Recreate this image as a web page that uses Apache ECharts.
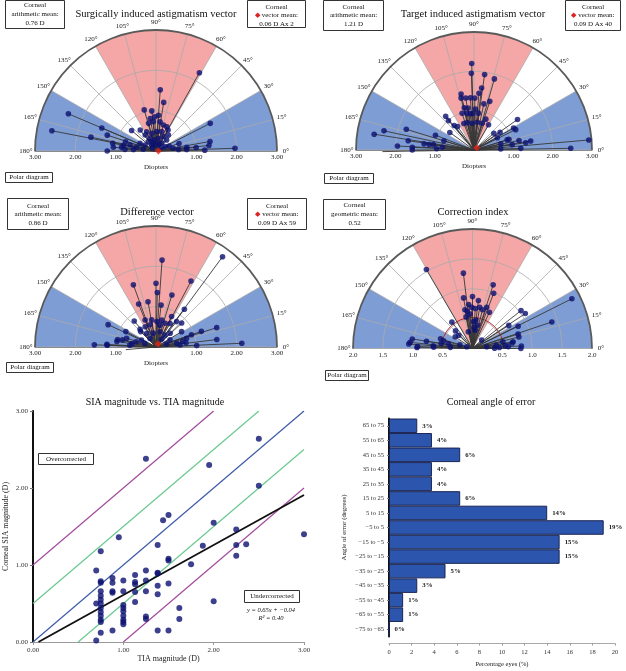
<!DOCTYPE html>
<html><head><meta charset="utf-8">
<script src="https://cdn.jsdelivr.net/npm/echarts@6/dist/echarts.min.js"></script>
<style>html,body{margin:0;padding:0;background:#fff}#c{width:626px;height:671px}</style>
</head><body><div id="c"></div>
<script>
const FONT = "'Liberation Serif', 'DejaVu Serif', serif";

// ---------- Polar diagrams: [axis angle (deg), magnitude] ----------
const siaVectors = [[61,2.22],[86,1.52],[81,1.22],[106,1.06],[96,1.00],[157,2.36],[169,2.63],[27,1.51],[157,1.46],[168,1.65],[170,1.09],[180,1.21],[10,1.36],[6,1.32],[2,1.96],[18,0.60],[7,0.77],[3,0.76],[1,1.21],[162,1.27],
[100,0.82],[92,0.85],[86,0.89],[95,0.73],[105,0.71],[82,0.73],[74,0.67],[66,0.66],[60,0.60],[74,0.50],[88,0.48],[104,0.45],[116,0.53],[124,0.48],[115,0.35],[100,0.28],[80,0.32],[63,0.40],[46,0.38],[54,0.24],[126,0.18],[129,0.30],[52,0.50],[26,0.25],[151,0.31],[154,0.44],[169,0.49],[167,0.66],[140,0.79],[127,0.65],[163,0.79],[170,0.82],[174,0.86],[175,1.06],[177,0.77],[176,0.56],[172,0.32],[9,0.43],[21,0.35],[4,0.56],[5,1.00],[90,0.15],[70,0.20],[110,0.22],[35,0.15],[140,0.12]];
const tiaVectors = [[91.5,2.20],[92,1.95],[82,1.94],[74,1.88],[83,1.59],[85,1.45],[103,1.46],[72,1.30],[78,1.20],[104,1.36],[99,1.34],[94,1.33],[89,1.32],[103,1.10],[98,1.08],[92,0.93],[83,0.94],[108,0.98],[104,0.72],[94,0.68],[83,0.71],[73,0.71],[69,0.84],[111,0.72],[130,1.12],[131,0.99],[144,0.76],[129,0.80],[125,0.73],[60,0.74],[35,1.35],[26,1.18],[34,0.80],[40,0.66],[28,0.67],[29,1.15],[17,0.93],[17,0.88],[12,1.17],[8,1.33],[9,1.46],[8,0.98],[13,0.70],[2,0.68],[2,1.19],[1,2.46],[5,2.93],[168,2.34],[171,2.57],[163,1.80],[181,2.33],[172,1.69],[177,1.95],[177.5,1.57],[180,1.57],[173,1.28],[173,1.15],[172.5,1.04],[159,1.05],[163,0.80],[175,0.81],[178,0.95],[96,0.93],[101,0.95],[88,1.04]];
const diffVectors = [[53.6,2.78],[86,2.16],[62,1.85],[110,1.64],[90,1.58],[88.6,1.35],[73,1.35],[53,1.17],[112,1.15],[100,1.14],[83,1.05],[63,0.85],[130,0.84],[112,0.72],[155,1.31],[153,0.84],[163.5,0.76],[169,0.97],[177,1.22],[135,0.54],[19,0.93],[19,1.19],[17.7,1.58],[7,1.52],[2.5,2.13],[16,0.79],[31,0.74],[178,1.53],[178,1.21],[172,0.98],[185,0.75],[2,1.01],
[99,0.68],[88,0.63],[78,0.68],[105,0.57],[80,0.55],[69,0.63],[59,0.68],[51,0.81],[43,0.87],[118,0.57],[132,0.59],[124,0.41],[101,0.35],[75,0.39],[53,0.37],[44,0.49],[125,0.26],[54,0.24],[27,0.39],[154,0.40],[165,0.51],[162,0.29],[16,0.27],[10,0.52],[176,0.65],[5,0.60],[8,0.75],[12,0.68],[172,0.60],[168,0.85]];
const ciVectors = [[120.3,1.53],[96.9,1.27],[72,1.12],[69,0.99],[26.6,1.86],[100,0.86],[90,0.87],[83,0.81],[95,0.74],[38,1.03],[33.5,1.06],[18.5,1.40],[26,0.85],[32.5,0.72],[17.6,0.80],[134,0.41],[128,0.56],[171,1.02],[174.4,1.05],[171,0.78],[163,0.56],[171,0.53],[179,0.93],[169,0.41],[12.5,0.52],[9.5,0.69],[3,0.82],[14,0.80],[8,0.67],[0,0.81],[176,1.07],[178,0.92],[176,0.66],[165,0.50],
[101,0.66],[98,0.63],[91,0.69],[86,0.67],[80,0.70],[75.5,0.67],[71,0.73],[65,0.67],[83,0.48],[78,0.40],[82,0.31],[136,0.32],[104,0.29],[146,0.35],[8,0.40],[7,0.24],[0.5,0.37],[163,0.10],[43,0.21],[164,0.22],[177,0.37],[178,0.65],[101.5,0.54],[94,0.58],[88,0.45],[86,0.35],[5,0.55],[3,0.60],[2,0.45]];
const siaMean = [2, 0.06];
const tiaMean = [40, 0.09];
const diffMean = [59, 0.09];
const ciGeoMean = 0.52;

const blueSectors = [[0,30],[150,180]];
const redSectors = [[60,120]];
const angleTicks = [0,15,30,45,60,75,90,105,120,135,150,165,180];

// ---------- SIA vs TIA scatter: [TIA magnitude, SIA magnitude] ----------
const magnitudePairs = [[0.70,0.93],[0.70,0.02],[0.75,1.18],[0.75,0.79],[0.75,0.77],[0.75,0.66],[0.75,0.60],[0.75,0.55],[0.75,0.50],[0.75,0.44],[0.75,0.39],[0.75,0.34],[0.75,0.29],[0.75,0.26],[0.75,0.12],[0.70,0.50],[0.88,0.83],[0.88,0.77],[0.88,0.66],[0.88,0.64],[0.88,0.15],[0.95,1.36],[1.00,0.80],[1.00,0.66],[1.00,0.48],[1.00,0.44],[1.00,0.40],[1.00,0.34],[1.00,0.29],[1.00,0.26],[1.00,0.23],[1.13,0.87],[1.13,0.78],[1.13,0.75],[1.13,0.65],[1.13,0.52],[1.25,2.38],[1.25,0.93],[1.25,0.80],[1.25,0.66],[1.25,0.33],[1.25,0.30],[1.38,1.26],[1.38,0.90],[1.38,0.89],[1.38,0.73],[1.38,0.62],[1.38,0.15],[1.44,1.58],[1.50,1.65],[1.50,1.08],[1.50,1.06],[1.50,0.76],[1.50,0.15],[1.62,0.44],[1.62,0.30],[1.75,1.01],[1.88,1.25],[1.95,2.30],[2.00,1.55],[2.00,0.53],[2.25,1.46],[2.25,1.26],[2.25,1.12],[2.36,1.27],[2.50,2.64],[2.50,2.03],[3.00,1.40]];
const purpleLineUpper = [[0,1],[2,3]];
const purpleLineLower = [[1,0],[3,2]];
const greenLineUpper = [[0,0.5],[2.5,3]];
const greenLineLower = [[0.5,0],[3,2.5]];
const blueLine = [[0,0],[3,3]];
const regressionLine = [[0.06,0],[3,1.91]];

// ---------- Angle of error histogram ----------
const errorCategories = ['65 to 75','55 to 65','45 to 55','35 to 45','25 to 35','15 to 25','5 to 15','\u22125 to 5','\u221215 to \u22125','\u221225 to \u221215','\u221235 to \u221225','\u221245 to \u221235','\u221255 to \u221245','\u221265 to \u221255','\u221275 to \u221265'];
const errorPercent = [2.5,3.8,6.3,3.8,3.8,6.3,14.0,19.0,15.1,15.1,5.0,2.5,1.25,1.25,0];
const errorLabels = ['3%','4%','6%','4%','4%','6%','14%','19%','15%','15%','5%','3%','1%','1%','0%'];

// ---------- styling ----------
const BLUE = '#7f9dd5', PINK = '#f4a7a6', NAVY = '#0c1170';
const rad = d => d * Math.PI / 180;
const toXY = v => [v[1] * Math.cos(rad(v[0])), v[1] * Math.sin(rad(v[0]))];

function polarBackground(rMax, rings, redArc) {
  return function (params, api) {
    const o = api.coord([0, 0]);
    const R = api.size([rMax, 0])[0];
    const ch = [];
    ch.push({type:'sector', shape:{cx:o[0],cy:o[1],r:R,r0:0,startAngle:-Math.PI,endAngle:0,clockwise:true}, style:{fill:'#fff'}});
    blueSectors.forEach(s => ch.push({type:'sector', shape:{cx:o[0],cy:o[1],r:R,r0:0,startAngle:-rad(s[1]),endAngle:-rad(s[0]),clockwise:true}, style:{fill:BLUE}}));
    redSectors.forEach(s => ch.push({type:'sector', shape:{cx:o[0],cy:o[1],r:R,r0:0,startAngle:-rad(s[1]),endAngle:-rad(s[0]),clockwise:true}, style:{fill:PINK}}));
    rings.forEach(v => {
      const rr = api.size([v, 0])[0];
      ch.push({type:'arc', shape:{cx:o[0],cy:o[1],r:rr,startAngle:-Math.PI,endAngle:0,clockwise:true}, style:{stroke:'#a9a9a9',fill:null,lineWidth:0.8}});
    });
    angleTicks.forEach(a => {
      ch.push({type:'line', shape:{x1:o[0],y1:o[1],x2:o[0]+R*Math.cos(rad(a)),y2:o[1]-R*Math.sin(rad(a))}, style:{stroke:'#a9a9a9',lineWidth:0.8}});
      ch.push({type:'text', x:o[0]+(R+9)*Math.cos(rad(a)), y:o[1]-(R+8)*Math.sin(rad(a)), style:{text:a+'\u00b0', fontSize:7, fontFamily:FONT, fill:'#222', align:'center', verticalAlign:'middle'}});
    });
    if (redArc) {
      const rr = api.size([redArc, 0])[0];
      ch.push({type:'arc', shape:{cx:o[0],cy:o[1],r:rr,startAngle:-Math.PI,endAngle:0,clockwise:true}, style:{stroke:'#b3262a',fill:null,lineWidth:1}});
    }
    ch.push({type:'arc', shape:{cx:o[0],cy:o[1],r:R,startAngle:-Math.PI,endAngle:0,clockwise:true}, style:{stroke:'#5a5a5a',fill:null,lineWidth:1.8}});
    return {type:'group', children:ch};
  };
}
function vectorLine(params, api) {
  const p = api.coord([api.value(0), api.value(1)]);
  const o = api.coord([0, 0]);
  return {type:'line', shape:{x1:o[0],y1:o[1],x2:p[0],y2:p[1]}, style:{stroke:'#383838',lineWidth:0.9}};
}

const panels = [
  {grid:{left:35,top:30,width:242,height:121}, rMax:3, rings:[1,2], interval:1, digits:2, vectors:siaVectors, mean:siaMean, name:'Diopters'},
  {grid:{left:356,top:32,width:236,height:118}, rMax:3, rings:[1,2], interval:1, digits:2, vectors:tiaVectors, mean:tiaMean, name:'Diopters'},
  {grid:{left:35,top:226,width:242,height:121}, rMax:3, rings:[1,2], interval:1, digits:2, vectors:diffVectors, mean:diffMean, name:'Diopters'},
  {grid:{left:353,top:229,width:239,height:119.5}, rMax:2, rings:[0.5,1,1.5], interval:0.5, digits:1, vectors:ciVectors, mean:null, name:'', redArc:ciGeoMean}
];

const grids = [], xAxes = [], yAxes = [], series = [];
panels.forEach((p, i) => {
  grids.push(Object.assign({outerBoundsMode:'none', containLabel:false}, p.grid));
  xAxes.push({gridIndex:i, type:'value', min:-p.rMax, max:p.rMax, interval:p.interval,
    axisLine:{show:true, onZero:false, lineStyle:{color:'#777', width:1}}, axisTick:{show:false}, splitLine:{show:false},
    axisLabel:{fontSize:7, fontFamily:FONT, color:'#222', margin:3, formatter: v => Math.abs(v) < 1e-9 ? '' : Math.abs(v).toFixed(p.digits)},
    name:p.name, nameLocation:'middle', nameGap:13, nameTextStyle:{fontSize:7, fontFamily:FONT, color:'#222'}});
  yAxes.push({gridIndex:i, type:'value', min:0, max:p.rMax, show:false});
  series.push({type:'custom', xAxisIndex:i, yAxisIndex:i, z:1, silent:true, clip:false, data:[[0,0]], renderItem:polarBackground(p.rMax, p.rings, p.redArc)});
  const pts = p.vectors.map(toXY);
  series.push({type:'custom', xAxisIndex:i, yAxisIndex:i, z:2, silent:true, clip:false, data:pts, renderItem:vectorLine});
  series.push({type:'scatter', xAxisIndex:i, yAxisIndex:i, z:3, silent:true, symbolSize:5.6, itemStyle:{color:NAVY}, data:pts});
  if (p.mean) series.push({type:'scatter', xAxisIndex:i, yAxisIndex:i, z:4, silent:true, symbol:'diamond', symbolSize:7, itemStyle:{color:'#e2231a'}, data:[toXY(p.mean)]});
});

// Scatter grid (index 4)
grids.push({outerBoundsMode:'none', containLabel:false, left:33, top:411, width:271, height:231});
xAxes.push({gridIndex:4, type:'value', min:0, max:3, interval:1,
  axisLine:{show:true, lineStyle:{color:'#999', width:1}}, axisTick:{show:true, length:3, lineStyle:{color:'#999'}}, splitLine:{show:false},
  axisLabel:{fontSize:7, fontFamily:FONT, color:'#333', margin:5, formatter: v => v.toFixed(2)},
  name:'TIA magnitude (D)', nameLocation:'middle', nameGap:12, nameTextStyle:{fontSize:8, fontFamily:FONT, color:'#222'}});
yAxes.push({gridIndex:4, type:'value', min:0, max:3, interval:1,
  axisLine:{show:true, lineStyle:{color:'#111', width:2}}, axisTick:{show:true, length:3, lineStyle:{color:'#777'}}, splitLine:{show:false},
  axisLabel:{fontSize:7, fontFamily:FONT, color:'#333', margin:5, formatter: v => v.toFixed(2)},
  name:'Corneal SIA magnitude (D)', nameLocation:'middle', nameGap:23, nameTextStyle:{fontSize:8, fontFamily:FONT, color:'#222'}});
[[purpleLineUpper,'#a24a9c'],[purpleLineLower,'#a24a9c'],[greenLineUpper,'#6ac88f'],[greenLineLower,'#6ac88f'],[blueLine,'#3d5aa9']].forEach(l => {
  series.push({type:'line', xAxisIndex:4, yAxisIndex:4, data:l[0], symbol:'none', silent:true, z:2, lineStyle:{color:l[1], width:1.2}});
});
series.push({type:'line', xAxisIndex:4, yAxisIndex:4, data:regressionLine, symbol:'none', silent:true, z:3, lineStyle:{color:'#111', width:1.8}});
series.push({type:'scatter', xAxisIndex:4, yAxisIndex:4, data:magnitudePairs, symbolSize:6, silent:true, z:4, itemStyle:{color:NAVY}});

// Bar grid (index 5)
grids.push({outerBoundsMode:'none', containLabel:false, left:389, top:418.5, width:226, height:218});
xAxes.push({gridIndex:5, type:'value', min:0, max:20, interval:2, offset:7,
  axisLine:{show:true, lineStyle:{color:'#aaa', width:1}}, axisTick:{show:true, length:2, lineStyle:{color:'#999'}}, splitLine:{show:false},
  axisLabel:{fontSize:6.5, fontFamily:FONT, color:'#333', margin:5},
  name:'Percentage eyes (%)', nameLocation:'middle', nameGap:17, nameTextStyle:{fontSize:6.5, fontFamily:FONT, color:'#222'}});
yAxes.push({gridIndex:5, type:'category', inverse:true, data:errorCategories,
  axisLine:{show:true, lineStyle:{color:'#111', width:2}}, axisTick:{show:true, alignWithLabel:true, length:2, lineStyle:{color:'#777'}},
  axisLabel:{fontSize:6.5, fontFamily:FONT, color:'#333', margin:5},
  name:'Angle of error (degrees)', nameLocation:'middle', nameGap:41, nameTextStyle:{fontSize:6.8, fontFamily:FONT, color:'#222'}});
series.push({type:'bar', xAxisIndex:5, yAxisIndex:5, data:errorPercent, barCategoryGap:'0%', silent:true,
  itemStyle:{color:'#2c55ad', borderColor:'#1b2552', borderWidth:1},
  label:{show:true, position:'right', distance:5, fontSize:6.8, fontWeight:'bold', fontFamily:FONT, color:'#222', formatter: p => errorLabels[p.dataIndex]}});

// ---------- text boxes and titles ----------
function txt(x, y, t, size, extra) {
  return Object.assign({type:'text', x:x, y:y, silent:true, style:Object.assign({text:t, fontSize:size, fontFamily:FONT, fill:'#111', align:'center', verticalAlign:'middle', rich:{r:{fill:'#de2222', fontSize:7}}}, extra || {})});
}
function box(x, y, w, h, lines, ys, size) {
  const ch = [{type:'rect', silent:true, shape:{x:x, y:y, width:w, height:h}, style:{fill:'#fff', stroke:'#333', lineWidth:1}}];
  lines.forEach((t, i) => ch.push(txt(x + w / 2, ys[i], t, size || 7)));
  return {type:'group', children:ch};
}
const graphics = [
  txt(156, 14, 'Surgically induced astigmatism vector', 10.5),
  txt(473, 14, 'Target induced astigmatism vector', 10.5),
  txt(157, 212, 'Difference vector', 10.5),
  txt(473, 212, 'Correction index', 10.5),
  txt(155, 402, 'SIA magnitude vs. TIA magnitude', 10),
  txt(491, 402, 'Corneal angle of error', 10),
  box(5.5, 0.5, 59, 28, ['Corneal','arithmetic mean:','0.76 D'], [5.5, 14, 23]),
  box(247.5, 0.5, 58, 27, ['Corneal','{r|\u25c6} vector mean:','0.06 D Ax 2'], [7, 15.5, 24]),
  box(5.5, 172.5, 47, 10, ['Polar diagram'], [177.5]),
  box(323.5, 0.5, 60, 30, ['Corneal','arithmetic mean:','1.21 D'], [7, 15, 24]),
  box(565.5, 0.5, 55, 30, ['Corneal','{r|\u25c6} vector mean:','0.09 D Ax 40'], [7, 15, 24]),
  box(324.5, 173.5, 49, 10, ['Polar diagram'], [178.5]),
  box(7.5, 198.5, 61, 31, ['Corneal','arithmetic mean:','0.86 D'], [206, 214.5, 223]),
  box(247.5, 198.5, 59, 31, ['Corneal','{r|\u25c6} vector mean:','0.09 D Ax 59'], [206, 214.5, 223]),
  box(6.5, 362.5, 47, 10, ['Polar diagram'], [367.5]),
  box(323.5, 199.5, 62, 30, ['Corneal','geometric mean:','0.52'], [205.5, 214, 223]),
  box(325.5, 370.5, 43, 10, ['Polar diagram'], [375.5]),
  box(38.5, 453.5, 55, 11, ['Overcorrected'], [459]),
  box(244.5, 590.5, 55, 12, ['Undercorrected'], [596.5]),
  txt(271, 610, 'y = 0.65x + \u22120.04', 6.5, {fontStyle:'italic'}),
  txt(271, 618, 'R\u00b2 = 0.40', 6.5, {fontStyle:'italic'})
];

const chart = echarts.init(document.getElementById('c'), null, {renderer:'canvas'});
chart.setOption({
  animation:false, backgroundColor:'#fff',
  grid:grids, xAxis:xAxes, yAxis:yAxes, series:series, graphic:graphics
});
</script></body></html>
